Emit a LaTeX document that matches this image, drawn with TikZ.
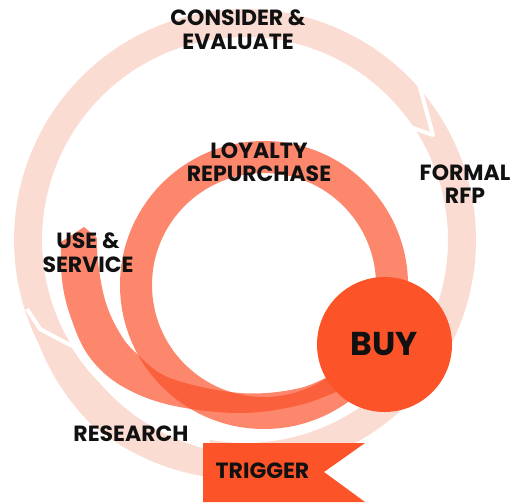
\documentclass[tikz,border=0pt]{standalone}
\usepackage{fontspec}
\setmainfont{Poppins}
\definecolor{ringpale}{RGB}{251,220,211}
\definecolor{spiral}{RGB}{250,78,38}
\definecolor{buyc}{RGB}{252,84,40}
\definecolor{inkc}{RGB}{17,17,17}
\begin{document}
\begin{tikzpicture}[x=0.5pt,y=-0.5pt,
  lbl/.style={font=\fontsize{11}{12}\selectfont\bfseries, text=inkc, anchor=base, inner sep=0pt},
  cut/.style={white, line width=2pt, line join=round},
  band/.style={fill=spiral, fill opacity=0.68}]
\useasboundingbox (0,0) rectangle (512,502);

% outer cycle: upper and right segment
\fill[ringpale]
  plot[domain=150:460,samples=140] ({245+231*cos(\x)},{240+231*sin(\x)})
  -- plot[domain=460:150,samples=140] ({245+203*cos(\x)},{240+203*sin(\x)}) -- cycle;
% outer cycle: lower left segment
\fill[ringpale]
  plot[domain=92:156,samples=60] ({245+(240-max(0,\x-130)*0.39)*cos(\x)},{240+(240-max(0,\x-130)*0.39)*sin(\x)})
  -- plot[domain=156:92,samples=60] ({245+(204+max(0,135-\x)*0.25)*cos(\x)},{240+(204+max(0,135-\x)*0.25)*sin(\x)}) -- cycle;
% gaps between the segments
\draw[cut] (419,84) -- (433,135) -- (400,123.5);
\draw[cut] (27,309) -- (40,329) -- (72,346);

% loyalty loop
\fill[band, even odd rule] (264,285) circle[radius=144] (264,285) circle[radius=112];
\fill[band]
  plot[smooth, tension=0.6] coordinates {(61,242) (62,280) (70,315) (88,355) (120,385) (170,405) (240,413) (300,405) (345,388)}
  -- plot[smooth, tension=0.6] coordinates {(340,370) (300,388) (240,393) (170,378) (135,352) (118,330) (105,300) (98,262) (97,238)}
  -- (84,227) -- cycle;

% buy and trigger
\node[circle, fill=buyc, minimum size=67.5pt, inner sep=0pt,
      font=\fontsize{16.5}{18}\selectfont\bfseries, text=inkc] (buy) at (384.5,344.5) {BUY};
\fill[buyc] (203,443) -- (365,443) -- (324,472) -- (365,502) -- (203,502) -- cycle;
\node[lbl] (trigger) at (262.5,478) {TRIGGER};

% stage labels
\node[lbl] (consider) at (238,26) {CONSIDER \&};
\node[lbl] (evaluate) at (238,50) {EVALUATE};
\node[lbl] (loyalty) at (259,158) {LOYALTY};
\node[lbl] (repurchase) at (259,181.5) {REPURCHASE};
\node[lbl] (formal) at (465,180) {FORMAL};
\node[lbl] (rfp) at (465,203) {RFP};
\node[lbl] (use) at (88,248) {USE \&};
\node[lbl] (service) at (88,272) {SERVICE};
\node[lbl] (research) at (131,441.5) {RESEARCH};
\end{tikzpicture}
\end{document}
